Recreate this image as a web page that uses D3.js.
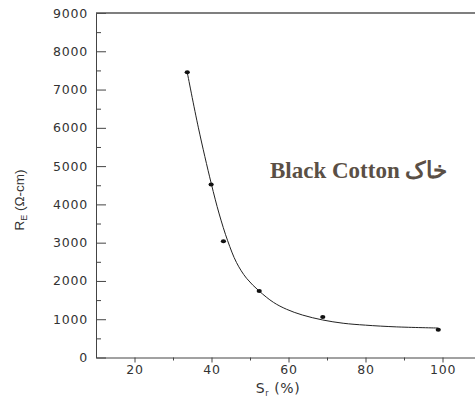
<!DOCTYPE html>
<html>
<head>
<meta charset="utf-8">
<script src="https://cdn.jsdelivr.net/npm/d3@7"></script>
<style>
  body { margin: 0; background: #fff; }
  svg { display: block; }
</style>
</head>
<body>
<div id="chart"></div>
<script>
// measured points
const satX = [33.7, 39.9, 43.1, 52.4, 68.9, 98.9]
const resY = [7450, 4520, 3035, 1735, 1055, 725]

// fitted curve
const fitX = [33.7, 36.6, 39.9, 42, 44.2, 46.5, 49.1, 52.4, 56.1, 59.5, 63.6, 68.9, 74.2, 80, 88, 98.9]
const fitY = [7450, 6000, 4560, 3750, 3050, 2480, 2070, 1735, 1440, 1260, 1110, 980, 895, 845, 800, 770]

const xTicks = [20, 40, 60, 80, 100]
const xMinor = [30, 50, 70, 90]
const yTicks = [0, 1000, 2000, 3000, 4000, 5000, 6000, 7000, 8000, 9000]
const yMinor = [500, 1500, 2500, 3500, 4500, 5500, 6500, 7500, 8500]

const width = 475
const height = 403
const axisColor = '#444'

const svg = d3
  .select('#chart')
  .append('svg')
  .attr('width', width)
  .attr('height', height)

const xScale = d3.scaleLinear().domain([10, 110]).range([96, 481])
const yScale = d3.scaleLinear().domain([0, 9000]).range([357.5, 13])

const tickFont = (g) =>
  g
    .selectAll('text')
    .attr('fill', '#333')
    .style('font-family', '"DejaVu Sans", sans-serif')
    .style('font-size', '12.5px')
    .style('letter-spacing', '0.8px')

// minor ticks first so the major axis sits on top
svg
  .append('g')
  .attr('transform', `translate(0, ${yScale(0)})`)
  .call(d3.axisBottom(xScale).tickValues(xMinor).tickSize(3).tickFormat(''))
  .call((g) => g.select('.domain').remove())
  .call((g) => g.selectAll('line').attr('stroke', axisColor))

svg
  .append('g')
  .attr('transform', `translate(${xScale(10)}, 0)`)
  .call(d3.axisLeft(yScale).tickValues(yMinor).tickSize(-5).tickFormat(''))
  .call((g) => g.select('.domain').remove())
  .call((g) => g.selectAll('line').attr('stroke', axisColor))

const xAxis = d3
  .axisBottom(xScale)
  .tickValues(xTicks)
  .tickFormat(d3.format('d'))
  .tickSizeInner(5)
  .tickSizeOuter(0)
  .tickPadding(3)

const yAxis = d3
  .axisLeft(yScale)
  .tickValues(yTicks)
  .tickFormat(d3.format('d'))
  .tickSizeInner(-10)
  .tickSizeOuter(0)
  .tickPadding(8)

svg
  .append('g')
  .attr('transform', `translate(0, ${yScale(0)})`)
  .call(xAxis)
  .call((g) => g.selectAll('line, path').attr('stroke', axisColor))
  .call(tickFont)

svg
  .append('g')
  .attr('transform', `translate(${xScale(10)}, 0)`)
  .call(yAxis)
  .call((g) => g.selectAll('line, path').attr('stroke', axisColor))
  .call(tickFont)

// top frame line
svg
  .append('line')
  .attr('x1', xScale(10))
  .attr('x2', xScale(110))
  .attr('y1', yScale(9000))
  .attr('y2', yScale(9000))
  .attr('stroke', '#555')
  .attr('stroke-width', 1.3)

// axis titles
svg
  .append('text')
  .attr('transform', `translate(24, 200) rotate(-90)`)
  .attr('text-anchor', 'middle')
  .attr('fill', '#333')
  .style('font-family', '"Liberation Sans", Arial, sans-serif')
  .style('font-size', '13.5px')
  .call((t) => {
    t.append('tspan').text('R')
    t.append('tspan').attr('dy', 3).style('font-size', '9px').text('E')
    t.append('tspan').attr('dy', -3).text(' (\u03a9-cm)')
  })

svg
  .append('text')
  .attr('x', 278)
  .attr('y', 393)
  .attr('text-anchor', 'middle')
  .attr('fill', '#333')
  .style('font-family', '"DejaVu Sans", sans-serif')
  .style('font-size', '14px')
  .style('letter-spacing', '0.6px')
  .call((t) => {
    t.append('tspan').text('S')
    t.append('tspan').attr('dy', 3).style('font-size', '8px').text('r')
    t.append('tspan').attr('dy', -3).text(' (%)')
  })

// fitted curve
const fitData = fitX.map((x, i) => ({ x: x, y: fitY[i] }))
const line = d3
  .line()
  .x((d) => xScale(d.x))
  .y((d) => yScale(d.y))
  .curve(d3.curveCatmullRom.alpha(0.5))

svg
  .append('path')
  .attr('d', line(fitData))
  .attr('fill', 'none')
  .attr('stroke', '#222')
  .attr('stroke-width', 1)

// points
const points = satX.map((x, i) => ({ x: x, y: resY[i] }))
svg
  .selectAll('.pt')
  .data(points)
  .join('ellipse')
  .attr('class', 'pt')
  .attr('cx', (d) => xScale(d.x))
  .attr('cy', (d) => yScale(d.y))
  .attr('rx', 2.6)
  .attr('ry', 2)
  .attr('fill', '#111')

// soil label
svg
  .append('text')
  .attr('x', 270)
  .attr('y', 178)
  .attr('fill', '#5a4f45')
  .style('font-family', '"Liberation Serif", "Times New Roman", serif')
  .style('font-weight', 'bold')
  .style('font-size', '23px')
  .text('Black Cotton \u062e\u0627\u06a9')
</script>
</body>
</html>
